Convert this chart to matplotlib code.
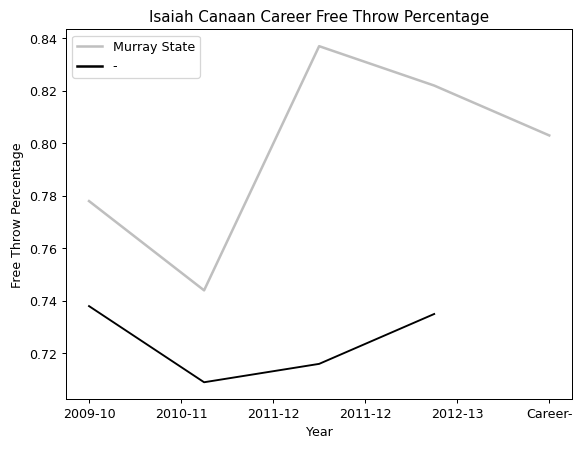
import matplotlib
matplotlib.use("Agg")
import matplotlib.pyplot as plt
import numpy as np

tick_labels = ["2009-10", "2010-11", "2011-12", "2011-12", "2012-13", "Career-"]
murray_state = [0.778, 0.744, 0.837, 0.822, 0.803]
other = [0.738, 0.709, 0.716, 0.735]

x_ms = np.linspace(0, 5, len(murray_state))
x_other = x_ms[:len(other)]

fig, ax = plt.subplots(figsize=(6.4, 5.0), dpi=90.5)
fig.subplots_adjust(left=0.114, right=0.988, top=0.934, bottom=0.117)
ax.plot(x_ms, murray_state, color="#bfbfbf", linewidth=2, label="Murray State")
ax.plot(x_other, other, color="black", linewidth=1.5, label="-")
ax.set_xticks(range(len(tick_labels)))
ax.set_xticklabels(tick_labels)
ax.set_title("Isaiah Canaan Career Free Throw Percentage")
ax.set_xlabel("Year")
ax.set_ylabel("Free Throw Percentage")
leg = ax.legend(loc="upper left")
for line in leg.get_lines():
    line.set_linewidth(2)
fig.savefig("out.png")
